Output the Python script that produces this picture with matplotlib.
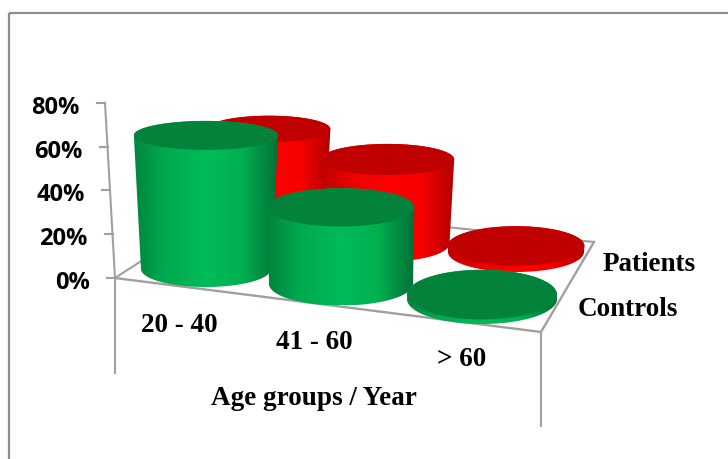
import numpy as np
import matplotlib
matplotlib.use("Agg")
import matplotlib.pyplot as plt
from matplotlib.colors import LinearSegmentedColormap
from matplotlib.patches import Polygon, Rectangle

age_groups = ["20 - 40", "41 - 60", "> 60"]
controls = [61, 35, 2]
patients = [53, 42, 3]
y_ticks = [0, 20, 40, 60, 80]

GRID = "#a0a0a0"
FRAME = "#8c8c8c"
SERIF = "Liberation Serif"

green_cmap = LinearSegmentedColormap.from_list(
    "g", [(0, "#00853f"), (0.2, "#00a84e"), (0.5, "#00bb58"), (0.75, "#00b050"), (1, "#006f35")])
red_cmap = LinearSegmentedColormap.from_list(
    "r", [(0, "#c00000"), (0.25, "#ee0000"), (0.5, "#ff0000"), (0.75, "#f80000"), (1, "#b00000")])


def wall(v):
    # value axis leans a little to the left as it rises
    return 115 - 0.125 * v, 279 - 2.19 * v


def front_row(i):
    return dict(cx=206 + 135 * i + 3 * i * (i - 1), cy=270 + 15 * i,
                rx=65 + 7 * i - 2 * i * (i - 1), ry=18 + 3.5 * i,
                scale=2.19, flare=0.0018 - 0.0013 * i)


def back_row(i):
    return dict(cx=269 + 118.5 * i + 5 * i * (i - 1), cy=236 + 8.5 * i,
                rx=56 + 6 * i, ry=16 + 2 * i, scale=2.0, flare=0.0018)


def draw_cylinder(ax, row, value, cmap, top_color, z):
    t = np.linspace(0, 2 * np.pi, 181)
    height = value * row["scale"]
    top_y = row["cy"] - height
    top_rx = row["rx"] * (1 + row["flare"] * value)
    top_ry = row["ry"] * (1 - 0.0032 * value)

    # side wall: upper half of the top ellipse joined to lower half of the base
    upper = np.linspace(np.pi, 2 * np.pi, 91)
    lower = np.linspace(0, np.pi, 91)
    xs = np.r_[row["cx"] + top_rx * np.cos(upper), row["cx"] + row["rx"] * np.cos(lower)]
    ys = np.r_[top_y + top_ry * np.sin(upper), row["cy"] + row["ry"] * np.sin(lower)]
    side = Polygon(np.c_[xs, ys], closed=True, transform=ax.transData, facecolor="none", edgecolor="none")
    ax.add_patch(side)
    grad = np.linspace(0, 1, 256).reshape(1, -1)
    im = ax.imshow(grad, cmap=cmap, aspect="auto", zorder=z, interpolation="bilinear",
                   extent=[row["cx"] - top_rx, row["cx"] + top_rx, row["cy"] + row["ry"], top_y - top_ry])
    im.set_clip_path(side)

    ax.add_patch(Polygon(np.c_[row["cx"] + top_rx * np.cos(t), top_y + top_ry * np.sin(t)],
                         closed=True, facecolor=top_color, edgecolor="none", zorder=z + 0.1))


fig = plt.figure(figsize=(7.28, 4.6), dpi=100)
ax = fig.add_axes([0, 0, 1, 1])

# outer frame runs off the right and bottom edges
ax.add_patch(Rectangle((9, 14), 760, 500, fill=False, edgecolor=FRAME, linewidth=1.6))

# floor outline and drop lines
x0, y0 = wall(0)
ax.plot([x0, 228], [y0, 206], color=GRID, lw=1.5, zorder=1)
ax.plot([228, 594], [206, 243], color=GRID, lw=1.5, zorder=1)
ax.plot([594, 541, x0], [243, 333, y0], color=GRID, lw=1.7, zorder=1)
ax.plot([541, 541], [333, 427], color=GRID, lw=1.5, zorder=1)
ax.plot([x0, x0], [y0, 374], color=GRID, lw=1.5, zorder=1)

# value axis
xt, yt = wall(y_ticks[-1])
ax.plot([xt, x0], [yt, y0], color=GRID, lw=1.5, zorder=1)
for v in y_ticks:
    x, y = wall(v)
    ax.plot([x - 8, x], [y, y], color=GRID, lw=1.5, zorder=1)
    ax.text(x - 25, y + 4, f"{v}%", ha="right", va="center", family="Open Sans",
            fontweight="bold", fontsize=17, color="black")

z = 2
for i, value in enumerate(patients):
    draw_cylinder(ax, back_row(i), value, red_cmap, "#c00000", z)
    z += 1
for i, value in enumerate(controls):
    draw_cylinder(ax, front_row(i), value, green_cmap, "#03823b", z)
    z += 1

for i, label in enumerate(age_groups):
    ax.text(179 + 135.5 * i + 6 * i * (i - 1), 326 + 17 * i, label, ha="center", va="center",
            family=SERIF, fontweight="bold", fontsize=19.5, color="black")

ax.text(314, 399, "Age groups / Year", ha="center", va="center", family=SERIF,
        fontweight="bold", fontsize=19.5, color="black")
ax.text(649, 265, "Patients", ha="center", va="center", family=SERIF,
        fontweight="bold", fontsize=19.5, color="black")
ax.text(628, 310, "Controls", ha="center", va="center", family=SERIF,
        fontweight="bold", fontsize=19.5, color="black")

ax.set_xlim(0, 728)
ax.set_ylim(460, 0)
ax.axis("off")
fig.savefig("out.png", dpi=100, facecolor="white")
